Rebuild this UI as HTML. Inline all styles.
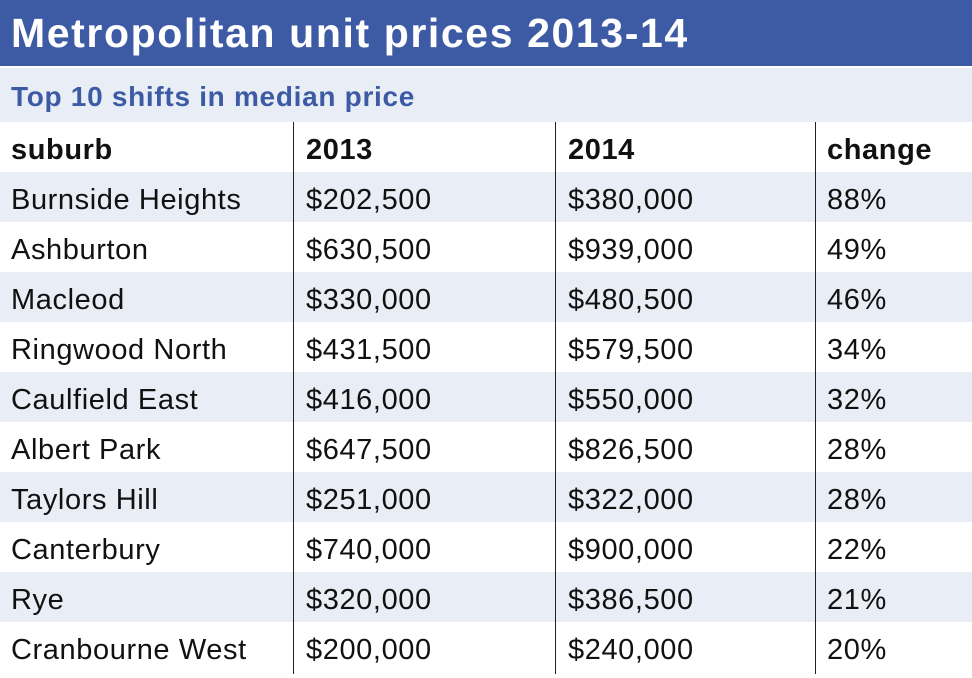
<!DOCTYPE html>
<html><head><meta charset="utf-8"><style>
body{margin:0;width:972px;height:674px;overflow:hidden;background:#fff;font-family:"Liberation Sans","DejaVu Sans",sans-serif;}
.title{position:absolute;left:0;top:0;width:972px;height:66px;background:#3d5ba4;color:#fff;font-weight:bold;font-size:41px;line-height:66px;padding-left:11px;box-sizing:border-box;letter-spacing:1.6px}
.sub{position:absolute;left:0;top:68px;width:972px;height:54px;background:#e9edf5;color:#3d5ba4;font-weight:bold;font-size:28px;line-height:58px;padding-left:11px;box-sizing:border-box;letter-spacing:0.7px}
.row{position:absolute;left:0;width:972px;height:50px;font-size:29px;line-height:56px;color:#111;letter-spacing:0.6px}
.row span{position:absolute;top:0}
.alt{background:#e9edf5}
.hd{font-weight:bold}
.v{position:absolute;top:122px;width:1px;height:552px;background:#222}
</style></head><body>
<div class="title">Metropolitan unit prices 2013-14</div>
<div class="sub">Top 10 shifts in median price</div>
<div class="row hd" style="top:122px"><span style="left:11px">suburb</span><span style="left:306px">2013</span><span style="left:568px">2014</span><span style="left:827px">change</span></div>
<div class="row alt" style="top:172px"><span style="left:11px">Burnside Heights</span><span style="left:306px">$202,500</span><span style="left:568px">$380,000</span><span style="left:827px">88%</span></div>
<div class="row" style="top:222px"><span style="left:11px">Ashburton</span><span style="left:306px">$630,500</span><span style="left:568px">$939,000</span><span style="left:827px">49%</span></div>
<div class="row alt" style="top:272px"><span style="left:11px">Macleod</span><span style="left:306px">$330,000</span><span style="left:568px">$480,500</span><span style="left:827px">46%</span></div>
<div class="row" style="top:322px"><span style="left:11px">Ringwood North</span><span style="left:306px">$431,500</span><span style="left:568px">$579,500</span><span style="left:827px">34%</span></div>
<div class="row alt" style="top:372px"><span style="left:11px">Caulfield East</span><span style="left:306px">$416,000</span><span style="left:568px">$550,000</span><span style="left:827px">32%</span></div>
<div class="row" style="top:422px"><span style="left:11px">Albert Park</span><span style="left:306px">$647,500</span><span style="left:568px">$826,500</span><span style="left:827px">28%</span></div>
<div class="row alt" style="top:472px"><span style="left:11px">Taylors Hill</span><span style="left:306px">$251,000</span><span style="left:568px">$322,000</span><span style="left:827px">28%</span></div>
<div class="row" style="top:522px"><span style="left:11px">Canterbury</span><span style="left:306px">$740,000</span><span style="left:568px">$900,000</span><span style="left:827px">22%</span></div>
<div class="row alt" style="top:572px"><span style="left:11px">Rye</span><span style="left:306px">$320,000</span><span style="left:568px">$386,500</span><span style="left:827px">21%</span></div>
<div class="row" style="top:622px"><span style="left:11px">Cranbourne West</span><span style="left:306px">$200,000</span><span style="left:568px">$240,000</span><span style="left:827px">20%</span></div>
<div class="v" style="left:293px"></div>
<div class="v" style="left:555px"></div>
<div class="v" style="left:815px"></div>
</body></html>
